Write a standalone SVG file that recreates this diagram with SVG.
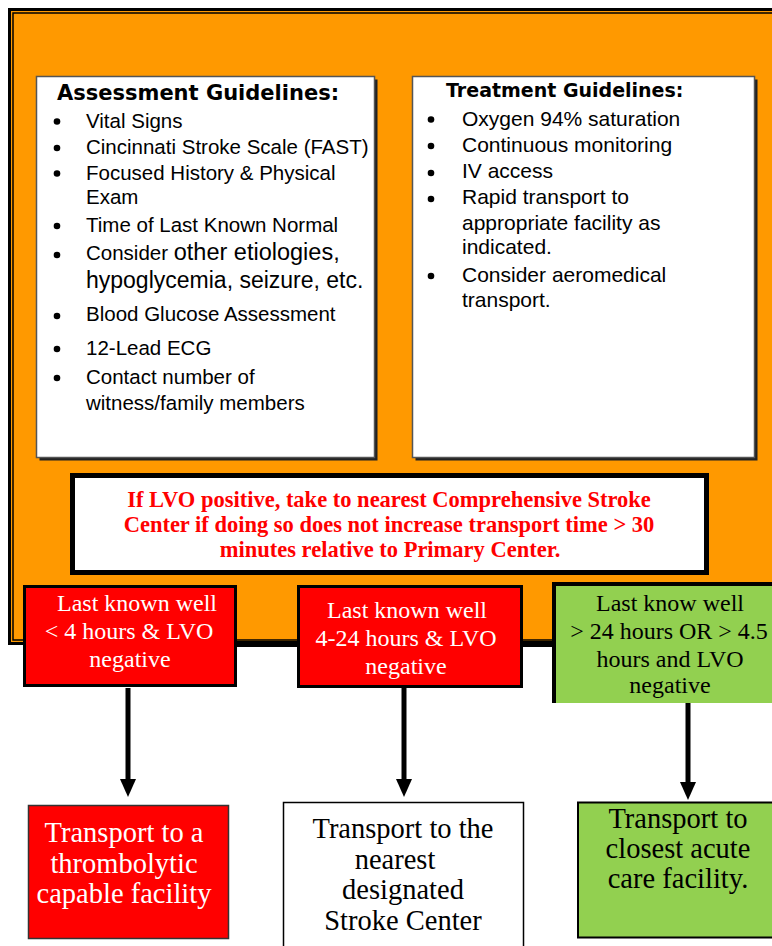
<svg xmlns="http://www.w3.org/2000/svg" width="772" height="946" viewBox="0 0 772 946">
<defs>
<style>
.sans{font-family:"Liberation Sans",Arial,sans-serif;fill:#000;font-size:20.5px}
.tr{font-size:21px}
.ttl{font-family:"DejaVu Sans",Verdana,sans-serif;font-weight:bold;fill:#000}
.ser{font-family:"Liberation Serif","Times New Roman",serif;text-anchor:middle}
.lvo{font-weight:bold;fill:#FF0000;font-size:22.5px}
.mid{font-size:24px}
.big{font-size:28.5px}
.w{fill:#fff}
.k{fill:#000}
.panel{fill:#fff;stroke:#555;stroke-width:1.5}
.shadow{fill:#222}
.dot{fill:#000}
.conn{stroke:#000;stroke-width:5;fill:none}
.hconn{stroke:#000;stroke-width:6;fill:none}
</style>
<marker id="ah" viewBox="0 0 18 16" markerWidth="18" markerHeight="16" refX="8" refY="8" orient="auto" markerUnits="userSpaceOnUse"><path d="M0,0 L18,8 L0,16 z" fill="#000"/></marker>
</defs>
<rect width="772" height="946" fill="#fff"/>
<g id="frame">
<rect x="9.5" y="9.5" width="800" height="634" fill="#FF9900" stroke="#000" stroke-width="3"/>
<rect x="13" y="13" width="800" height="627" fill="none" stroke="#000" stroke-width="1.5"/>
</g>
<g id="connectors">
<line x1="236" y1="644" x2="300" y2="644" class="hconn"/>
<line x1="521" y1="644" x2="555" y2="644" class="hconn"/>
<line x1="128" y1="688" x2="128" y2="787" class="conn" marker-end="url(#ah)"/>
<line x1="404" y1="688" x2="404" y2="787" class="conn" marker-end="url(#ah)"/>
<line x1="688" y1="703" x2="688" y2="790" class="conn" marker-end="url(#ah)"/>
</g>
<g id="assessment">
<rect x="39.5" y="79.5" width="338" height="381" class="shadow"/>
<rect x="36.5" y="76.5" width="338" height="381" class="panel"/>
<text x="57" y="100" class="ttl" font-size="21">Assessment Guidelines:</text>
<circle class="dot" cx="57" cy="121.5" r="3.3"/>
<circle class="dot" cx="57" cy="148" r="3.3"/>
<circle class="dot" cx="57" cy="173.5" r="3.3"/>
<circle class="dot" cx="57" cy="226" r="3.3"/>
<circle class="dot" cx="57" cy="255" r="3.3"/>
<circle class="dot" cx="57" cy="316" r="3.3"/>
<circle class="dot" cx="57" cy="349" r="3.3"/>
<circle class="dot" cx="57" cy="378" r="3.3"/>
<text class="sans" x="86" y="128">Vital Signs</text>
<text class="sans" x="86" y="154">Cincinnati Stroke Scale (FAST)</text>
<text class="sans" x="86" y="180">Focused History &amp; Physical</text>
<text class="sans" x="86" y="204">Exam</text>
<text class="sans" x="86" y="232">Time of Last Known Normal</text>
<text class="sans" x="86" y="260">Consider <tspan style="font-size:23.5px">other etiologies,</tspan></text>
<text class="sans" x="86" y="288" style="font-size:23px">hypoglycemia, seizure, etc.</text>
<text class="sans" x="86" y="321">Blood Glucose Assessment</text>
<text class="sans" x="86" y="355">12-Lead ECG</text>
<text class="sans" x="86" y="384">Contact number of</text>
<text class="sans" x="86" y="410">witness/family members</text>
</g>
<g id="treatment">
<rect x="415.5" y="79.5" width="342" height="381" class="shadow"/>
<rect x="412.5" y="76.5" width="342" height="381" class="panel"/>
<text x="446" y="97" class="ttl" font-size="19">Treatment Guidelines:</text>
<circle class="dot" cx="431" cy="119.5" r="3.3"/>
<circle class="dot" cx="431" cy="146" r="3.3"/>
<circle class="dot" cx="431" cy="173" r="3.3"/>
<circle class="dot" cx="431" cy="199" r="3.3"/>
<circle class="dot" cx="431" cy="276" r="3.3"/>
<text class="sans tr" x="462" y="126">Oxygen 94% saturation</text>
<text class="sans tr" x="462" y="152">Continuous monitoring</text>
<text class="sans tr" x="462" y="178">IV access</text>
<text class="sans tr" x="462" y="204">Rapid transport to</text>
<text class="sans tr" x="462" y="230">appropriate facility as</text>
<text class="sans tr" x="462" y="254">indicated.</text>
<text class="sans tr" x="462" y="282">Consider aeromedical</text>
<text class="sans tr" x="462" y="307">transport.</text>
</g>
<g id="lvo">
<rect x="72.5" y="475.5" width="634" height="97" fill="#fff" stroke="#000" stroke-width="5"/>
<text class="ser lvo" x="389" y="507">If LVO positive, take to nearest Comprehensive Stroke</text>
<text class="ser lvo" x="389" y="532">Center if doing so does not increase transport time &gt; 30</text>
<text class="ser lvo" x="390" y="557">minutes relative to Primary Center.</text>
</g>
<g id="lkw-lt4">
<rect x="24.5" y="586.5" width="211" height="99" fill="#FF0000" stroke="#000" stroke-width="3"/>
<text class="ser mid w" x="137" y="611">Last known well</text>
<text class="ser mid w" x="129" y="639">&lt; 4 hours &amp; LVO</text>
<text class="ser mid w" x="130" y="667">negative</text>
</g>
<g id="lkw-4to24">
<rect x="298.5" y="586.5" width="223" height="100" fill="#FF0000" stroke="#000" stroke-width="3"/>
<text class="ser mid w" x="407" y="618">Last known well</text>
<text class="ser mid w" x="406" y="646">4-24 hours &amp; LVO</text>
<text class="ser mid w" x="406" y="674">negative</text>
</g>
<g id="lkw-gt24">
<rect x="552" y="582" width="225" height="121" fill="#92D050"/>
<path d="M554,703 V584 H777" fill="none" stroke="#000" stroke-width="4"/>
<text class="ser mid k" x="670" y="611">Last know well</text>
<text class="ser mid k" x="669" y="639">&gt; 24 hours OR &gt; 4.5</text>
<text class="ser mid k" x="670" y="667">hours and LVO</text>
<text class="ser mid k" x="670" y="693">negative</text>
</g>
<g id="thrombolytic">
<rect x="28.5" y="805.5" width="200" height="133" fill="#FF0000" stroke="#333" stroke-width="1.5"/>
<text class="ser big w" x="124" y="842">Transport to a</text>
<text class="ser big w" x="124" y="873">thrombolytic</text>
<text class="ser big w" x="124" y="903">capable facility</text>
</g>
<g id="stroke-center">
<rect x="283.5" y="802.5" width="240" height="150" fill="#fff" stroke="#000" stroke-width="1.5"/>
<text class="ser big k" x="403" y="838">Transport to the</text>
<text class="ser big k" x="395" y="869">nearest</text>
<text class="ser big k" x="403" y="899">designated</text>
<text class="ser big k" x="403" y="930">Stroke Center</text>
</g>
<g id="acute-care">
<rect x="578" y="802.5" width="200" height="135" fill="#92D050" stroke="#000" stroke-width="2"/>
<text class="ser big k" x="678" y="828">Transport to</text>
<text class="ser big k" x="678" y="858">closest acute</text>
<text class="ser big k" x="678" y="888">care facility.</text>
</g>
</svg>
